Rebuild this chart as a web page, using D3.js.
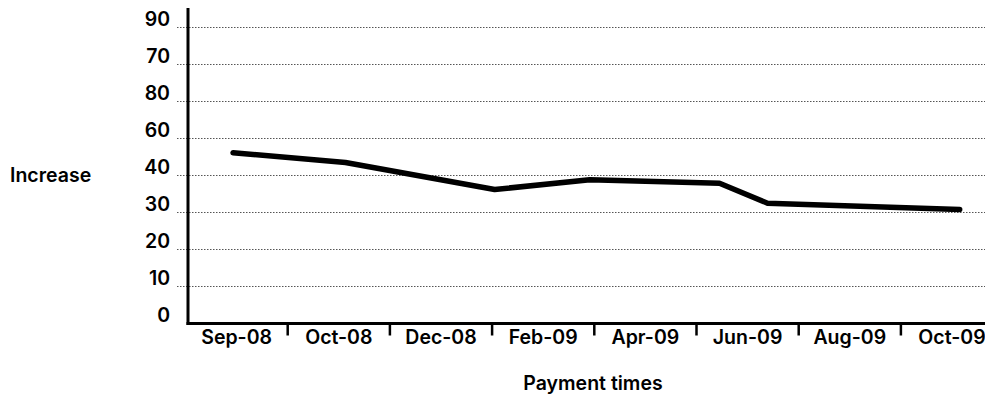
<!DOCTYPE html>
<html>
<head>
<meta charset="utf-8">
<script src="https://cdn.jsdelivr.net/npm/d3@7"></script>
<style>
  body { margin: 0; background: #fff; }
  text { font-family: Inter, "Liberation Sans", Arial, sans-serif; font-weight: 600; fill: #000; }
</style>
</head>
<body>
<svg id="chart" width="985" height="397"></svg>
<script>
// ====
// DATA
// ====

// category labels along the bottom
const months = ["Sep-08", "Oct-08", "Dec-08", "Feb-09", "Apr-09", "Jun-09", "Aug-09", "Oct-09"];

// y grid values and the labels printed next to them (order as in the picture)
const yTicks = [0, 10, 20, 30, 40, 50, 60, 70, 80];
const yLabels = ["0", "10", "20", "30", "40", "60", "80", "70", "90"];

// line vertices: position along the category axis, value on the grid scale
const pointPos = [-0.03, 1.07, 2.53, 3.46, 4.73, 5.2, 7.08];
const pointVal = [46.1, 43.5, 36.2, 38.8, 37.9, 32.5, 30.8];

// ======
// LAYOUT
// ======

const svg = d3.select("#chart");
const W = 985;
const axisX = 188;
const baseY = 323.5;
const band = 102.2;
const bandStart = 185;
const fontSize = "19.5px";

const x = d3.scaleLinear()
  .domain([-0.5, months.length - 0.5])
  .range([bandStart, bandStart + band * months.length]);

const y = d3.scaleLinear()
  .domain([0, 80])
  .range([baseY, 27.3]);

// gridlines (dotted)
svg.append("g")
  .selectAll("line")
  .data(yTicks.slice(1))
  .enter()
  .append("line")
  .attr("x1", 177)
  .attr("x2", W)
  .attr("y1", d => Math.round(y(d)) + 0.5)
  .attr("y2", d => Math.round(y(d)) + 0.5)
  .style("stroke", "#555")
  .style("stroke-width", 1)
  .style("stroke-dasharray", "1.5,1.5");

// y labels
const yAxis = svg.append("g")
  .attr("transform", `translate(${axisX},0)`)
  .call(d3.axisLeft(y).tickValues(yTicks).tickSize(0).tickPadding(18)
    .tickFormat((d, i) => yLabels[i]));
yAxis.select(".domain").remove();
yAxis.selectAll("text")
  .attr("y", -8)
  .style("font-size", fontSize)
  .style("font-family", null);

// x labels at band centres
const xAxis = svg.append("g")
  .attr("transform", `translate(0,${baseY})`)
  .call(d3.axisBottom(x).tickValues(d3.range(months.length)).tickSize(0).tickPadding(7)
    .tickFormat((d, i) => months[i]));
xAxis.select(".domain").remove();
xAxis.selectAll("text")
  .style("font-size", fontSize)
  .style("font-family", null);

// tick marks between categories
const xTicks = svg.append("g")
  .attr("transform", `translate(0,${baseY})`)
  .call(d3.axisBottom(x).tickValues(d3.range(0.5, months.length - 1, 1)).tickSize(12)
    .tickFormat(""));
xTicks.select(".domain").remove();
xTicks.selectAll("line")
  .style("stroke", "#000")
  .style("stroke-width", 2.5);

// axis lines
svg.append("line")
  .attr("x1", axisX).attr("x2", axisX)
  .attr("y1", 8).attr("y2", baseY + 1.5)
  .style("stroke", "#000").style("stroke-width", 3);
svg.append("line")
  .attr("x1", axisX - 1.5).attr("x2", W)
  .attr("y1", baseY).attr("y2", baseY)
  .style("stroke", "#000").style("stroke-width", 3);

// the series
const pts = pointPos.map((p, i) => [p, pointVal[i]]);
svg.append("path")
  .datum(pts)
  .attr("d", d3.line().x(d => x(d[0])).y(d => y(d[1])))
  .style("fill", "none")
  .style("stroke", "#000")
  .style("stroke-width", 5.5)
  .style("stroke-linecap", "round")
  .style("stroke-linejoin", "round");

// titles
svg.append("text")
  .attr("x", 10)
  .attr("y", 182)
  .style("font-size", fontSize)
  .text("Increase");

svg.append("text")
  .attr("x", 593)
  .attr("y", 390)
  .attr("text-anchor", "middle")
  .style("font-size", fontSize)
  .text("Payment times");
</script>
</body>
</html>
